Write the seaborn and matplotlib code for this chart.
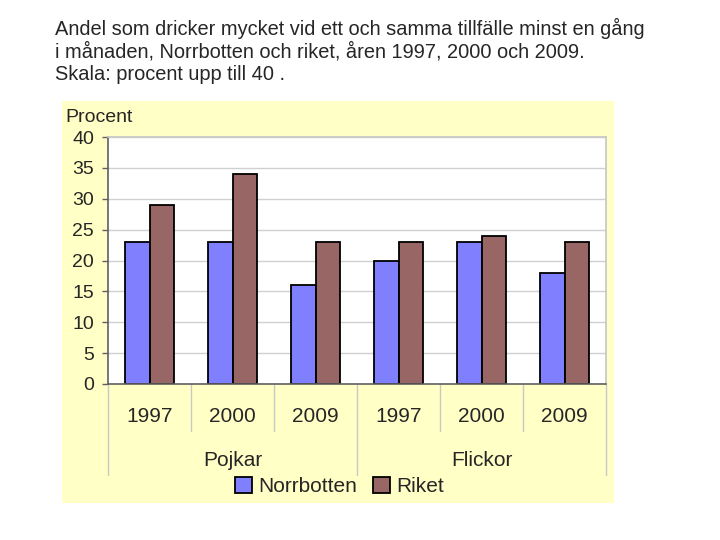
import matplotlib
matplotlib.use("Agg")
import matplotlib.pyplot as plt
import matplotlib.transforms as mtransforms
import pandas as pd
import seaborn as sns

sns.set_theme(style="white")
plt.rcParams["font.family"] = ["Liberation Sans", "DejaVu Sans"]

years = ["1997", "2000", "2009", "1997", "2000", "2009"]
groups = ["Pojkar", "Flickor"]
norrbotten = [23, 23, 16, 20, 23, 18]
riket = [29, 34, 23, 23, 24, 23]
series = ["Norrbotten", "Riket"]
colors = ["#8080FF", "#996666"]
yticks = [0, 5, 10, 15, 20, 25, 30, 35, 40]

slots = [f"{g}{y}" for g in groups for y in years[:3]]
df = pd.DataFrame({
    "slot": slots * 2,
    "serie": [series[0]] * 6 + [series[1]] * 6,
    "procent": norrbotten + riket,
})

fig = plt.figure(figsize=(7.2, 5.4), dpi=100)
fig.patch.set_facecolor("white")

# yellow chart panel behind the plot
bg = fig.add_axes([62 / 720, 1 - 503 / 540, 552 / 720, 402 / 540], zorder=0)
bg.set_facecolor("#FFFFC6")
bg.set_xticks([])
bg.set_yticks([])
for s in bg.spines.values():
    s.set_visible(False)

ax = fig.add_axes([108 / 720, 1 - 384 / 540, 498 / 720, 247 / 540], zorder=1)
sns.barplot(data=df, x="slot", y="procent", hue="serie", order=slots,
            palette=colors, width=0.6, edgecolor="black", linewidth=1.3,
            saturation=1, legend=True, ax=ax)
ax.set_facecolor("white")
ax.set_ylim(0, 40)
ax.set_xlim(-0.5, 5.5)
ax.set_yticks(yticks)
ax.set_yticklabels([str(t) for t in yticks], fontsize=14)
ax.yaxis.grid(True, color="#D0D0D0", linewidth=1)
ax.set_axisbelow(True)
ax.tick_params(axis="y", length=4, width=1, color="#606060", pad=6, left=True)
ax.set_xticks([])
ax.set_xlabel("")
ax.set_ylabel("")
for s in ["top", "right"]:
    ax.spines[s].set_color("#C8C8C8")
for s in ["left", "bottom"]:
    ax.spines[s].set_color("#606060")
    ax.spines[s].set_linewidth(1.2)

# category axis labels and separators
trans = mtransforms.blended_transform_factory(ax.transData, ax.transAxes)
for i, yr in enumerate(years):
    ax.text(i, -0.13, yr, transform=trans, ha="center", va="center", fontsize=15)
for i in range(7):
    lower = -0.37 if i in (0, 3, 6) else -0.19
    ax.plot([i - 0.5, i - 0.5], [0, lower], transform=trans, color="#C8C8C8",
            linewidth=1, clip_on=False)
for j, g in enumerate(groups):
    ax.text(j * 3 + 1, -0.31, g, transform=trans, ha="center", va="center", fontsize=15)

leg = ax.legend(loc="center", bbox_to_anchor=(0.465, -0.415), ncol=2, frameon=False,
                fontsize=15, handlelength=0.8, handleheight=0.8, handletextpad=0.3,
                columnspacing=0.8, borderaxespad=0)

fig.text(65 / 720, 1 - 117 / 540, "Procent", fontsize=14, va="center", ha="left")

title = ("Andel som dricker mycket vid ett och samma tillfälle minst en gång\n"
         "i månaden, Norrbotten och riket, åren 1997, 2000 och 2009.\n"
         "Skala: procent upp till 40 .")
fig.text(55 / 720, 1 - 18 / 540, title, fontsize=14.4, va="top", ha="left",
         linespacing=1.2)

fig.savefig("out.png", dpi=100)
plt.close(fig)
